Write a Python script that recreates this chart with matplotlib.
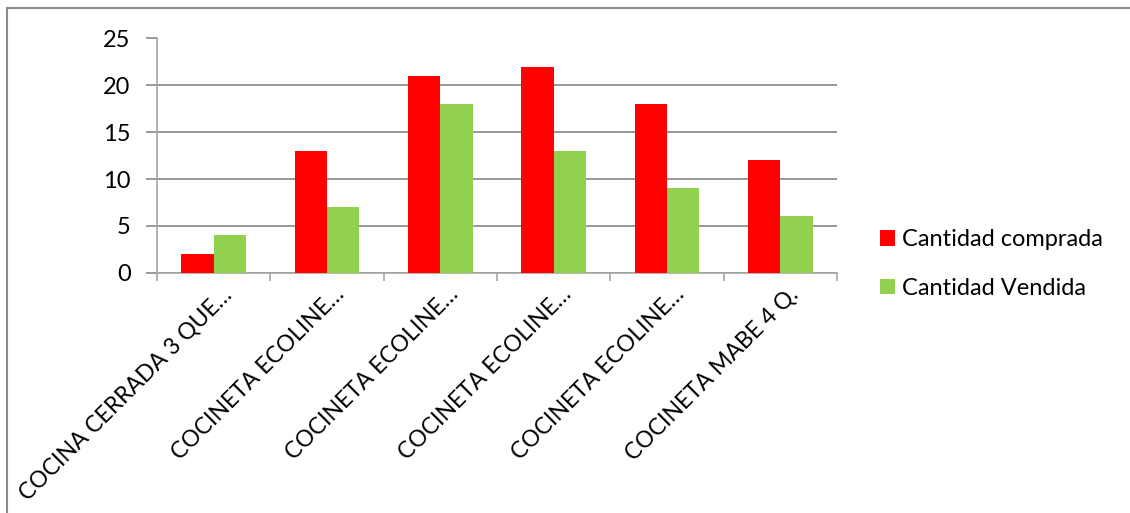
import numpy as np
import matplotlib
matplotlib.use("Agg")
import matplotlib.pyplot as plt
from matplotlib.lines import Line2D
import matplotlib.transforms as mtransforms

plt.rcParams['font.family'] = ['Lato', 'DejaVu Sans']

# datos de productos
productos = ["COCINA CERRADA 3 QUE…", "COCINETA ECOLINE…", "COCINETA ECOLINE…",
             "COCINETA ECOLINE…", "COCINETA ECOLINE…", "COCINETA MABE 4 Q."]
comprada = [2, 13, 21, 22, 18, 12]
vendida = [4, 7, 18, 13, 9, 6]

rojo = "#FF0000"
verde = "#92D050"
gris = "#A6A6A6"
tam = 17

fig = plt.figure(figsize=(11.3, 5.13), dpi=100)
ax = fig.add_axes([157 / 1130, (513 - 272.7) / 513, 680 / 1130, 234.2 / 513])

x = np.arange(len(productos))
ancho = 0.285
ax.bar(x - ancho / 2, comprada, ancho, color=rojo, label="Cantidad comprada", zorder=3)
ax.bar(x + ancho / 2, vendida, ancho, color=verde, label="Cantidad Vendida", zorder=3)

ax.set_xlim(-0.5, len(productos) - 0.5)
ax.set_ylim(0, 25)
ax.set_yticks(range(0, 26, 5))
ax.yaxis.grid(True, color="#868686", linewidth=1.2, zorder=0)
ax.tick_params(axis="y", length=8, width=1.2, color="#868686", labelsize=tam, pad=11)

# marcas entre categorias
ax.set_xticks(np.arange(-0.5, len(productos)), minor=True)
ax.tick_params(axis="x", which="minor", length=6, width=1.2, color=gris)
ax.set_xticks(x)
ax.set_xticklabels(productos, rotation=45, ha="right", va="top",
                   rotation_mode="anchor", fontsize=16.5)
ax.tick_params(axis="x", which="major", length=0, pad=8)
desplaza = mtransforms.ScaledTranslation(7 / 100, 0, fig.dpi_scale_trans)
for t in ax.get_xticklabels():
    t.set_transform(t.get_transform() + desplaza)

for s in ["top", "right"]:
    ax.spines[s].set_visible(False)
for s in ["left", "bottom"]:
    ax.spines[s].set_color(gris)
    ax.spines[s].set_linewidth(1.2)

fig.legend(loc="center left", bbox_to_anchor=(880 / 1130, 1 - 264 / 513),
           frameon=False, fontsize=tam, handlelength=0.62, handleheight=0.62,
           handletextpad=0.3, labelspacing=1.15, borderpad=0, borderaxespad=0)

# borde del grafico
fig.add_artist(Line2D([7 / 1130, 7 / 1130], [0, 1 - 8 / 513], color="#8C8C8C",
                      linewidth=1.5, transform=fig.transFigure))
fig.add_artist(Line2D([7 / 1130, 1], [1 - 8 / 513, 1 - 8 / 513], color="#8C8C8C",
                      linewidth=1.5, transform=fig.transFigure))

fig.savefig("out.png", dpi=100)
